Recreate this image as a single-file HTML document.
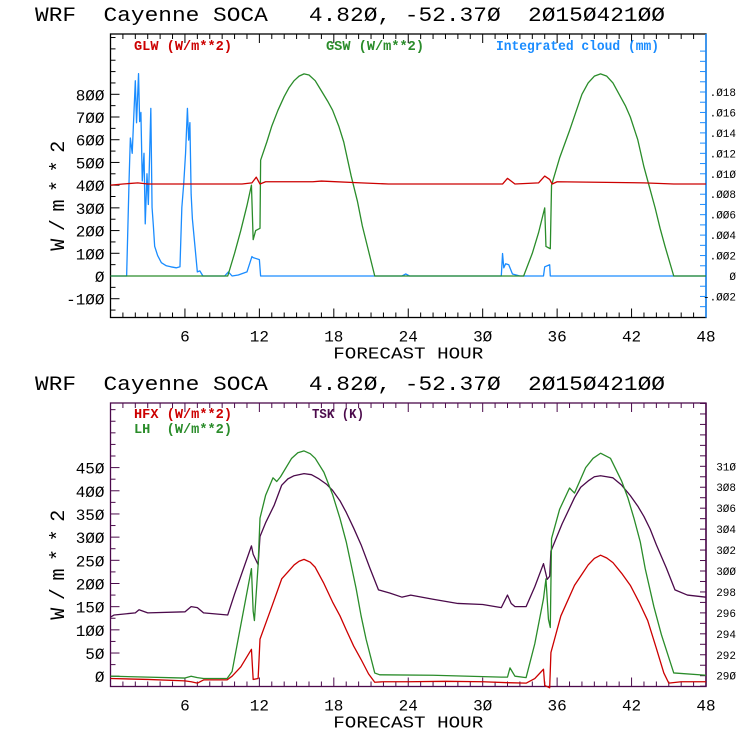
<!DOCTYPE html>
<html><head><meta charset="utf-8"><style>
html,body{margin:0;padding:0;background:#fff;width:740px;height:740px;overflow:hidden}
svg{display:block}
text{font-family:"Liberation Mono",monospace;white-space:pre}
</style></head><body>
<svg id="c" width="740" height="740" viewBox="0 0 740 740" xmlns="http://www.w3.org/2000/svg"></svg>
<script>
// ---------- DATA ----------
const glwHours=[0,1,2.2,3,10.6,11.4,11.75,12.05,12.5,16.3,17,20.2,22.4,31.6,32,32.6,34.5,35,35.4,35.6,36,43,45.4,48];
const glwVals=[400,405,410,405,405,410,435,405,415,415,418,410,405,405,430,405,410,440,425,405,415,410,405,405];
const gswHours=[0,9.45,10,10.5,11,11.36,11.5,11.7,12.05,12.1,12.6,13,13.5,14,14.4,14.8,15.2,15.6,16,16.5,17,17.5,17.9,18.4,18.8,19.4,19.9,20.3,20.8,21.3,33.3,34,34.5,35,35.1,35.45,35.55,36.2,36.6,37,37.5,38,38.5,39,39.5,40,40.5,41,41.5,41.9,42.5,43,43.5,43.9,44.3,44.7,45.4,48];
const gswVals=[0,0,100,200,310,400,160,200,210,510,590,660,730,790,830,860,880,890,885,860,815,770,730,660,590,440,330,220,110,0,0,100,190,300,130,120,400,520,580,640,720,800,850,880,890,880,850,800,750,700,600,480,380,300,210,130,0,0];
const cldHours=[0,1.3,1.5,1.6,1.75,2.0,2.1,2.26,2.35,2.45,2.56,2.7,2.8,2.94,3.05,3.25,3.35,3.45,3.56,3.8,4.1,4.5,4.86,5.3,5.6,5.75,5.9,6.05,6.2,6.3,6.4,6.5,6.6,6.8,7.0,7.2,7.45,9.2,9.5,9.8,10.3,11.0,11.4,11.5,12.0,12.1,23.5,23.8,24.1,31.5,31.6,31.7,31.85,32.1,32.4,33,34.9,35.0,35.4,35.45,48];
const cldVals=[0,0,.0095,.0135,.012,.0191,.015,.0198,.0151,.0160,.0093,.0120,.0051,.0100,.0070,.0164,.0067,.0050,.0029,.0020,.0013,.0010,.0009,.0008,.0009,.0067,.0090,.0120,.0164,.0133,.0150,.0080,.0056,.0030,.0004,.0005,0,0,.0004,0,.0001,.0004,.0019,.0018,.0016,0,0,.0002,0,0,.0022,.0008,.0012,.0011,.0002,0,0,.0009,.0011,0,0];
const hfxHours=[0,3,6,6.5,7,7.5,9.4,9.8,10.5,11.36,11.5,11.9,12.05,13,13.8,14.3,14.8,15.2,15.6,16.1,16.5,17.2,17.9,18.5,19,19.6,20.2,20.8,21.3,22,24,27,30,32,33.5,34.2,34.9,35.0,35.4,35.5,36.3,37.4,38,38.5,39,39.5,40,40.5,41.2,41.9,42.6,43.3,44,44.6,45,46,48];
const hfxVals=[-5,-7,-10,-12,-15,-8,-8,0,20,58,-7,-5,80,150,210,225,240,248,252,246,235,200,160,130,100,65,36,5,-13,-12,-12,-11,-12,-14,-15,-5,15,-20,-25,51,130,196,220,240,254,261,255,245,222,196,160,120,60,7,-15,-12,-12];
const lhHours=[0,3,6,6.5,7,7.5,9.4,9.8,10.5,11.36,11.5,11.6,11.9,12.05,12.5,13.1,13.4,13.7,14.6,15.1,15.6,16.1,16.5,17.2,17.9,18.5,19,19.4,19.8,20.2,20.6,21.3,21.7,26,31.5,32,32.2,32.6,33.5,34.2,34.9,35.1,35.3,35.45,35.55,36.2,37,37.4,38.3,38.9,39.5,40.3,41.2,41.7,42.2,42.7,43.1,43.8,44.4,45.4,48];
const lhVals=[0,-2,-4,0,-3,-5,-5,10,110,232,140,120,240,341,390,428,420,430,470,482,486,480,470,440,392,340,290,240,189,130,80,7,3,2,-2,-2,18,0,-3,70,167,210,123,105,297,360,406,395,450,470,481,470,421,385,340,290,232,150,90,7,2];
const tskHours=[0,0.3,2,2.3,3,6,6.5,7,7.5,9.45,10,11.36,11.5,11.9,12.05,12.5,13.2,13.8,14.3,14.8,15.6,16.2,16.8,17.4,17.9,18.5,19,19.6,20.2,20.9,21.6,22.5,23.5,24.2,26,28,30,31.5,32,32.3,32.6,33.5,34.2,34.9,35.2,35.4,35.5,36.4,37.4,37.9,38.5,39,39.5,40,40.5,41.2,41.9,42.5,43,43.5,44,44.8,45.5,46.5,48];
const tskVals=[295.6,295.8,296.0,296.3,296.0,296.1,296.6,296.5,296.0,295.8,297.8,302.4,301.6,300.6,303.3,304.6,306.3,308.2,308.8,309.1,309.3,309.2,308.8,308.3,307.7,306.7,305.6,304.1,302.5,300.3,298.2,297.9,297.5,297.7,297.3,296.9,296.8,296.5,297.7,296.9,296.6,296.6,298.5,300.7,299.2,299.5,301.9,304.5,307.0,308.0,308.6,309.0,309.1,309.0,308.9,308.2,307.2,306.2,305.2,304.0,302.5,300.3,298.2,297.7,297.5];
const xTicks=[6,12,18,24,30,36,42,48];
const topLeftTicks=[-100,0,100,200,300,400,500,600,700,800];
const topRightTicks=[-0.002,0,0.002,0.004,0.006,0.008,0.010,0.012,0.014,0.016,0.018];
const botLeftTicks=[0,50,100,150,200,250,300,350,400,450];
const botRightTicks=[290,292,294,296,298,300,302,304,306,308,310];

// ---------- GEOMETRY ----------
const NS='http://www.w3.org/2000/svg';
const svg=document.getElementById('c');
const X0=110.5,X1=706;
const xs=h=>X0+(X1-X0)*h/48;
function el(tag,attrs,parent){const e=document.createElementNS(NS,tag);for(const k in attrs)e.setAttribute(k,attrs[k]);(parent||svg).appendChild(e);return e;}
function txt(s,x,y,attrs){const t=el('text',Object.assign({x:x,y:y},attrs));t.textContent=s;return t;}
const T={top:34,bot:317.5};
const yT=v=>276-v*(276-94.3)/800;
const yTR=v=>276-v*(276-92)/0.018;
const B={top:403,bot:686.5};
const yB=v=>676.2-v*(676.2-467.6)/450;
const yBR=v=>675.7-(v-290)*(675.7-466.3)/20;

function line(hours,vals,yf,color,name){
  let d='';hours.forEach((h,i)=>{d+=(i?'L':'M')+xs(h).toFixed(2)+' '+yf(vals[i]).toFixed(2);});
  const p=el('path',{d:d,fill:'none',stroke:color,'stroke-width':1.3,'stroke-linejoin':'round'});
  
  
}

function panel(P,yL,yR,leftTicks,rightTicks,rightFmt,frameColor,rightColor,leftMinor,rightMinorStep,rightMin,rightMax,leftMin,leftMax,prefix){
  const g=el('g',{});
  
  
  el('rect',{x:X0,y:P.top,width:X1-X0,height:P.bot-P.top,fill:'none',stroke:frameColor,'stroke-width':1.3},g);
  el('line',{x1:X1,y1:P.top,x2:X1,y2:P.bot,stroke:rightColor,'stroke-width':1.5},g);
  for(let h=1;h<48;h++){const x=xs(h);const L=(h%6===0)?9:5;
    el('line',{x1:x,y1:P.bot,x2:x,y2:P.bot-L,stroke:frameColor,'stroke-width':1},g);
    el('line',{x1:x,y1:P.top,x2:x,y2:P.top+L,stroke:frameColor,'stroke-width':1},g);}
  xTicks.forEach(h=>{const t=txt(String(h).replace(/0/g,'Ø'),xs(h),P.bot+24,{'font-size':16,'text-anchor':'middle',fill:'#000'});
    
    });
  for(let v=leftMin;v<=leftMax;v+=leftMinor){const y=yL(v);if(y<P.top||y>P.bot)continue;
    const major=leftTicks.indexOf(v)>=0;
    el('line',{x1:X0,y1:y,x2:X0+(major?9:5),y2:y,stroke:frameColor,'stroke-width':1},g);}
  leftTicks.forEach(v=>{const t=txt(String(v).replace(/0/g,'Ø'),X0-6,yL(v)+6,{'font-size':16,'text-anchor':'end',fill:'#000'});
    
    });
  for(let v=rightMin;v<=rightMax+1e-9;v+=rightMinorStep){const y=yR(v);if(y<P.top||y>P.bot)continue;
    el('line',{x1:X1,y1:y,x2:X1-6,y2:y,stroke:rightColor,'stroke-width':1},g);}
  rightTicks.forEach(v=>{const t=txt(rightFmt(v),X1+30,yR(v)+4,{'font-size':11,'text-anchor':'end',fill:'#000'});
    
    });
  const xl=txt('FORECAST HOUR',(X0+X1)/2,P.bot+41,{'font-size':17,'text-anchor':'middle',fill:'#000',textLength:150,lengthAdjust:'spacingAndGlyphs'});
  
  
  const yc=(P.top+P.bot)/2+20;
  const yl=txt('W/m**2',0,0,{'font-size':20,'text-anchor':'middle',fill:'#000',textLength:110,lengthAdjust:'spacing',transform:'translate(64,'+yc+') rotate(-90)'});
  
  
}
const fmtR1=v=>{if(v===0)return 'Ø';let s=Math.abs(v).toFixed(3).replace(/^0/,'').replace(/0/g,'Ø');return (v<0?'-':'')+s;};
const fmtR2=v=>String(v).replace(/0/g,'Ø');

[[21,'top'],[390,'bottom']].forEach(([y,p])=>{
  const t=txt('WRF  Cayenne SOCA   4.82Ø, -52.37Ø  2Ø15Ø421ØØ',35,y,{'font-size':20,fill:'#000',textLength:630,lengthAdjust:'spacingAndGlyphs'});
  
  
});

panel(T,yT,yTR,topLeftTicks,topRightTicks,fmtR1,'#000','#1a8cff',50,0.001,-0.003,0.022,-150,1050,'top');
panel(B,yB,yBR,botLeftTicks,botRightTicks,fmtR2,'#4b0a4b','#4b0a4b',25,1,289,318,-25,575,'bottom');

[['GLW (W/m**2)',134,50,'#cc0000','legend-glw',98],['GSW (W/m**2)',326,50,'#2a8c2a','legend-gsw',98],['Integrated cloud (mm)',496,50,'#1a8cff','legend-cloud',163],
 ['HFX (W/m**2)',134,418,'#cc0000','legend-hfx',98],['LH  (W/m**2)',134,433,'#2a8c2a','legend-lh',98],['TSK (K)',312,418,'#4b0a4b','legend-tsk',52]].forEach(a=>{
  const t=txt(a[0],a[1],a[2],{'font-size':14,fill:a[3],'font-family':'Liberation Serif, serif',textLength:a[5],lengthAdjust:'spacingAndGlyphs','font-weight':'bold'});
  
  
});

line(cldHours,cldVals,yTR,'#1a8cff','cloud-line');
line(gswHours,gswVals,yT,'#2a8c2a','gsw-line');
line(glwHours,glwVals,yT,'#cc0000','glw-line');
line(tskHours,tskVals,yBR,'#4b0a4b','tsk-line');
line(lhHours,lhVals,yB,'#2a8c2a','lh-line');
line(hfxHours,hfxVals,yB,'#cc0000','hfx-line');
</script>
</body></html>
